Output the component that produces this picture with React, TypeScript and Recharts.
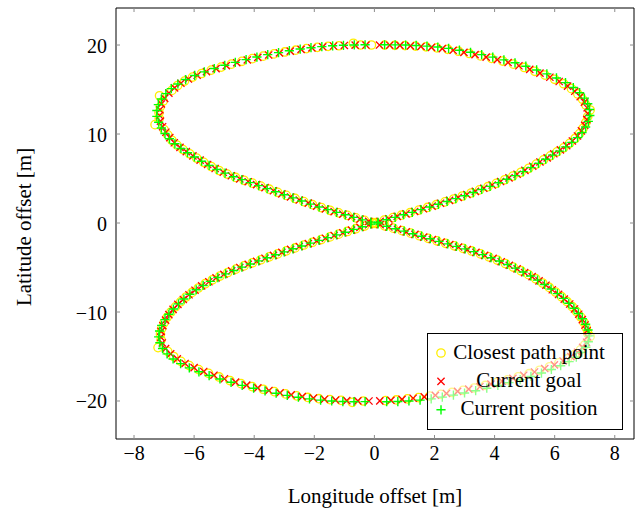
import {
  ScatterChart,
  Scatter,
  XAxis,
  YAxis,
  ReferenceArea,
  Legend,
} from 'recharts';

// figure-8 path: [x, y] in metres (upper right, upper left, lower left, lower right)
const closestPathPoints: [number, number][] = [
  [0.05, 0.05], [0.33, 0.32], [0.62, 0.6], [0.9, 0.88], [1.19, 1.16], [1.48, 1.45], [1.77, 1.75], [2.06, 2.06], [2.35, 2.37], [2.64, 2.7], [2.93, 3.03], [3.22, 3.37], [3.5, 3.72], [3.78, 4.08], [4.06, 4.46], [4.34, 4.86], [4.61, 5.27], [4.88, 5.7], [5.14, 6.15], [5.39, 6.62], [5.63, 7.1], [5.86, 7.55], [6.08, 8.0], [6.3, 8.45], [6.5, 8.95], [6.68, 9.5], [6.83, 10.05], [6.95, 10.65], [7.04, 11.3], [7.1, 11.95], [7.18, 12.7], [7.04, 13.25], [6.93, 13.9], [6.77, 14.5], [6.56, 15.1], [6.3, 15.65], [6.0, 16.15], [5.68, 16.62], [5.34, 17.05], [4.99, 17.48], [4.63, 17.85], [4.27, 18.2], [3.9, 18.5], [3.53, 18.78], [3.16, 19.05], [2.8, 19.3], [2.44, 19.52], [2.08, 19.68], [1.72, 19.8], [1.37, 19.88], [1.02, 19.94], [0.68, 19.97], [0.34, 19.99],
  [-0.05, 0.05], [-0.33, 0.3], [-0.62, 0.58], [-0.9, 0.86], [-1.19, 1.14], [-1.48, 1.43], [-1.77, 1.74], [-2.06, 2.06], [-2.35, 2.4], [-2.64, 2.76], [-2.93, 3.1], [-3.22, 3.45], [-3.5, 3.8], [-3.78, 4.14], [-4.06, 4.48], [-4.34, 4.8], [-4.62, 5.12], [-4.9, 5.5], [-5.17, 5.9], [-5.43, 6.35], [-5.68, 6.82], [-5.92, 7.3], [-6.15, 7.78], [-6.37, 8.25], [-6.57, 8.75], [-6.74, 9.3], [-6.88, 9.9], [-7.0, 10.5], [-7.3, 11.05], [-7.16, 11.75], [-7.17, 12.4], [-7.13, 13.05], [-7.03, 13.7], [-7.15, 14.3], [-6.74, 14.9], [-6.55, 15.45], [-6.32, 15.95], [-6.05, 16.4], [-5.75, 16.8], [-5.43, 17.18], [-5.1, 17.52], [-4.76, 17.85], [-4.41, 18.17], [-4.06, 18.47], [-3.7, 18.75], [-3.34, 19.0], [-2.98, 19.22], [-2.62, 19.42], [-2.26, 19.6], [-1.9, 19.74], [-1.54, 19.85], [-1.18, 19.92], [-0.7, 20.2], [-0.46, 20.0], [-0.1, 20.0],
  [-0.05, -0.05], [-0.33, -0.34], [-0.62, -0.64], [-0.9, -0.95], [-1.19, -1.25], [-1.48, -1.56], [-1.77, -1.86], [-2.06, -2.16], [-2.35, -2.47], [-2.64, -2.8], [-2.93, -3.13], [-3.22, -3.47], [-3.5, -3.8], [-3.78, -4.13], [-4.06, -4.47], [-4.34, -4.82], [-4.61, -5.18], [-4.88, -5.56], [-5.14, -5.96], [-5.39, -6.38], [-5.63, -6.82], [-5.86, -7.3], [-6.07, -7.8], [-6.27, -8.32], [-6.45, -8.86], [-6.62, -9.42], [-6.77, -10.0], [-6.9, -10.6], [-7.0, -11.22], [-7.08, -11.86], [-7.12, -12.5], [-7.1, -13.15], [-7.2, -14.0], [-6.88, -14.42], [-6.68, -15.0], [-6.44, -15.54], [-6.16, -16.02], [-5.85, -16.47], [-5.52, -16.9], [-5.17, -17.3], [-4.81, -17.7], [-4.44, -18.05], [-4.07, -18.38], [-3.7, -18.68], [-3.33, -18.95], [-2.96, -19.2], [-2.59, -19.42], [-2.22, -19.6], [-1.85, -19.74], [-1.48, -19.85], [-1.11, -19.93], [-0.74, -20.15], [-0.37, -20.0],
  [0.05, -0.05], [0.34, -0.32], [0.63, -0.58], [0.92, -0.86], [1.21, -1.14], [1.5, -1.43], [1.79, -1.72], [2.08, -2.0], [2.37, -2.28], [2.66, -2.56], [2.95, -2.84], [3.24, -3.14], [3.53, -3.46], [3.81, -3.8], [4.09, -4.16], [4.36, -4.55], [4.62, -4.95], [4.88, -5.36], [5.13, -5.8], [5.37, -6.26], [5.6, -6.74], [5.82, -7.24], [6.03, -7.75], [6.23, -8.28], [6.41, -8.82], [6.58, -9.38], [6.73, -9.95], [6.86, -10.54], [6.97, -11.15], [7.05, -11.78], [7.1, -12.42], [7.18, -12.75], [7.0, -13.7], [6.86, -14.25], [6.66, -14.78], [6.42, -15.27], [6.14, -15.72], [5.83, -16.15], [5.5, -16.55], [5.15, -16.93], [4.79, -17.28], [4.43, -17.62], [4.06, -17.94], [3.69, -18.25], [3.32, -18.54], [2.95, -18.8], [2.58, -19.04], [2.21, -19.26], [1.84, -19.45], [1.47, -19.62], [1.1, -19.76], [0.73, -19.88], [0.37, -19.96],
];

const currentGoalPoints: [number, number][] = [
  [0.19, 0.18], [0.48, 0.46], [0.76, 0.74], [1.05, 1.02], [1.34, 1.3], [1.63, 1.6], [1.92, 1.9], [2.2, 2.22], [2.5, 2.54], [2.79, 2.87], [3.08, 3.2], [3.36, 3.55], [3.64, 3.9], [3.92, 4.27], [4.2, 4.66], [4.48, 5.07], [4.75, 5.48], [5.01, 5.92], [5.27, 6.38], [5.51, 6.86], [5.75, 7.32], [5.97, 7.78], [6.19, 8.22], [6.4, 8.7], [6.59, 9.22], [6.76, 9.78], [6.89, 10.35], [7.0, 10.98], [7.07, 11.62], [7.1, 12.3], [7.08, 12.95], [6.99, 13.58], [6.85, 14.2], [6.67, 14.8], [6.43, 15.38], [6.15, 15.9], [5.84, 16.38], [5.51, 16.84], [5.17, 17.27], [4.81, 17.67], [4.45, 18.03], [4.09, 18.35], [3.72, 18.64], [3.35, 18.92], [2.98, 19.18], [2.62, 19.41], [2.26, 19.6], [1.9, 19.74], [1.55, 19.84], [1.2, 19.91], [0.85, 19.96], [0.51, 19.98], [0.17, 20.0],
  [-0.19, 0.18], [-0.48, 0.44], [-0.76, 0.72], [-1.05, 1.0], [-1.34, 1.28], [-1.63, 1.58], [-1.92, 1.9], [-2.2, 2.23], [-2.5, 2.58], [-2.79, 2.93], [-3.08, 3.28], [-3.36, 3.62], [-3.64, 3.97], [-3.92, 4.31], [-4.2, 4.64], [-4.48, 4.96], [-4.76, 5.31], [-5.03, 5.7], [-5.3, 6.12], [-5.55, 6.58], [-5.8, 7.06], [-6.04, 7.54], [-6.26, 8.02], [-6.47, 8.5], [-6.66, 9.02], [-6.81, 9.6], [-6.94, 10.2], [-7.05, 10.82], [-7.12, 11.45], [-7.15, 12.08], [-7.14, 12.72], [-7.09, 13.38], [-6.98, 14.0], [-6.84, 14.6], [-6.65, 15.18], [-6.44, 15.7], [-6.19, 16.18], [-5.9, 16.6], [-5.59, 17.0], [-5.27, 17.35], [-4.93, 17.68], [-4.58, 18.01], [-4.23, 18.32], [-3.88, 18.61], [-3.52, 18.88], [-3.16, 19.11], [-2.8, 19.32], [-2.44, 19.51], [-2.08, 19.67], [-1.72, 19.8], [-1.36, 19.89], [-1.0, 19.95], [-0.64, 19.99], [-0.28, 20.0],
  [-0.19, -0.2], [-0.48, -0.49], [-0.76, -0.8], [-1.05, -1.1], [-1.34, -1.4], [-1.63, -1.71], [-1.92, -2.01], [-2.2, -2.32], [-2.5, -2.64], [-2.79, -2.96], [-3.08, -3.3], [-3.36, -3.63], [-3.64, -3.96], [-3.92, -4.3], [-4.2, -4.64], [-4.48, -5.0], [-4.75, -5.37], [-5.01, -5.76], [-5.27, -6.17], [-5.51, -6.6], [-5.75, -7.06], [-5.97, -7.55], [-6.17, -8.06], [-6.36, -8.59], [-6.54, -9.14], [-6.7, -9.71], [-6.84, -10.3], [-6.95, -10.91], [-7.04, -11.54], [-7.1, -12.18], [-7.11, -12.82], [-7.06, -13.48], [-6.95, -14.11], [-6.78, -14.71], [-6.56, -15.27], [-6.3, -15.78], [-6.0, -16.25], [-5.68, -16.68], [-5.34, -17.1], [-4.99, -17.5], [-4.62, -17.88], [-4.25, -18.22], [-3.88, -18.53], [-3.51, -18.82], [-3.14, -19.08], [-2.77, -19.31], [-2.4, -19.51], [-2.03, -19.67], [-1.66, -19.8], [-1.29, -19.89], [-0.92, -19.96], [-0.55, -19.99], [-0.18, -20.0],
  [0.19, -0.18], [0.48, -0.45], [0.77, -0.72], [1.06, -1.0], [1.35, -1.28], [1.64, -1.58], [1.93, -1.86], [2.22, -2.14], [2.51, -2.42], [2.8, -2.7], [3.09, -2.99], [3.38, -3.3], [3.67, -3.63], [3.95, -3.98], [4.22, -4.35], [4.49, -4.75], [4.75, -5.15], [5.0, -5.58], [5.25, -6.03], [5.48, -6.5], [5.71, -6.99], [5.92, -7.5], [6.13, -8.02], [6.32, -8.55], [6.5, -9.1], [6.66, -9.66], [6.8, -10.25], [6.92, -10.85], [7.01, -11.46], [7.08, -12.1], [7.09, -12.76], [7.06, -13.4], [6.93, -13.98], [6.76, -14.52], [6.54, -15.02], [6.28, -15.5], [5.99, -15.94], [5.67, -16.35], [5.33, -16.74], [4.97, -17.1], [4.61, -17.45], [4.25, -17.78], [3.88, -18.1], [3.51, -18.4], [3.14, -18.67], [2.77, -18.92], [2.4, -19.15], [2.03, -19.36], [1.66, -19.54], [1.29, -19.69], [0.92, -19.82], [0.55, -19.92], [0.18, -19.99],
];

const currentPositionPoints: [number, number][] = [
  [0.12, 0.08], [0.4, 0.36], [0.69, 0.63], [0.97, 0.93], [1.26, 1.2], [1.55, 1.5], [1.84, 1.8], [2.13, 2.1], [2.42, 2.42], [2.71, 2.74], [3.0, 3.07], [3.29, 3.42], [3.57, 3.77], [3.85, 4.12], [4.13, 4.52], [4.41, 4.92], [4.68, 5.33], [4.95, 5.77], [5.21, 6.22], [5.46, 6.7], [5.7, 7.17], [5.93, 7.63], [6.16, 8.08], [6.37, 8.55], [6.57, 9.06], [6.76, 9.6], [6.91, 10.16], [7.03, 10.78], [7.12, 11.42], [7.17, 12.08], [7.16, 12.75], [7.1, 13.4], [6.99, 14.03], [6.83, 14.64], [6.62, 15.22], [6.36, 15.78], [6.06, 16.3], [5.74, 16.76], [5.4, 17.2], [5.04, 17.62], [4.68, 18.0], [4.31, 18.33], [3.94, 18.64], [3.57, 18.92], [3.2, 19.18], [2.83, 19.42], [2.47, 19.62], [2.11, 19.78], [1.75, 19.88], [1.39, 19.95], [1.04, 20.0], [0.69, 20.02], [0.34, 20.03],
  [-0.12, 0.1], [-0.4, 0.35], [-0.69, 0.63], [-0.97, 0.92], [-1.26, 1.2], [-1.55, 1.5], [-1.84, 1.8], [-2.13, 2.12], [-2.42, 2.47], [-2.71, 2.83], [-3.0, 3.17], [-3.29, 3.52], [-3.57, 3.86], [-3.85, 4.2], [-4.13, 4.54], [-4.41, 4.87], [-4.69, 5.2], [-4.97, 5.6], [-5.24, 6.02], [-5.5, 6.47], [-5.75, 6.94], [-5.99, 7.42], [-6.22, 7.9], [-6.44, 8.38], [-6.64, 8.9], [-6.82, 9.46], [-6.97, 10.06], [-7.09, 10.68], [-7.18, 11.32], [-7.24, 11.98], [-7.24, 12.64], [-7.19, 13.3], [-7.09, 13.93], [-6.94, 14.54], [-6.76, 15.1], [-6.54, 15.62], [-6.28, 16.12], [-5.98, 16.58], [-5.66, 16.98], [-5.33, 17.36], [-4.98, 17.72], [-4.63, 18.05], [-4.27, 18.36], [-3.91, 18.65], [-3.55, 18.92], [-3.19, 19.15], [-2.83, 19.36], [-2.47, 19.55], [-2.11, 19.7], [-1.75, 19.82], [-1.39, 19.91], [-1.03, 19.97], [-0.67, 20.01], [-0.31, 20.03],
  [-0.12, -0.12], [-0.4, -0.42], [-0.69, -0.72], [-0.97, -1.03], [-1.26, -1.33], [-1.55, -1.64], [-1.84, -1.95], [-2.13, -2.26], [-2.42, -2.58], [-2.71, -2.9], [-3.0, -3.24], [-3.29, -3.57], [-3.57, -3.91], [-3.85, -4.25], [-4.13, -4.6], [-4.41, -4.96], [-4.68, -5.33], [-4.95, -5.72], [-5.21, -6.13], [-5.46, -6.56], [-5.7, -7.02], [-5.93, -7.5], [-6.14, -8.01], [-6.34, -8.54], [-6.52, -9.09], [-6.69, -9.66], [-6.84, -10.25], [-6.97, -10.86], [-7.08, -11.5], [-7.15, -12.14], [-7.18, -12.8], [-7.14, -13.46], [-7.05, -14.1], [-6.9, -14.7], [-6.7, -15.28], [-6.45, -15.8], [-6.16, -16.28], [-5.84, -16.72], [-5.5, -17.14], [-5.14, -17.53], [-4.77, -17.9], [-4.4, -18.24], [-4.02, -18.56], [-3.64, -18.86], [-3.27, -19.13], [-2.9, -19.37], [-2.53, -19.58], [-2.16, -19.76], [-1.79, -19.9], [-1.42, -20.0], [-1.05, -20.06], [-0.68, -20.08], [-0.31, -20.07],
  [0.12, -0.1], [0.41, -0.37], [0.7, -0.64], [0.99, -0.91], [1.28, -1.2], [1.57, -1.48], [1.86, -1.77], [2.15, -2.06], [2.44, -2.34], [2.73, -2.62], [3.02, -2.91], [3.31, -3.22], [3.6, -3.55], [3.88, -3.9], [4.16, -4.27], [4.43, -4.66], [4.69, -5.07], [4.95, -5.5], [5.2, -5.95], [5.43, -6.42], [5.66, -6.91], [5.88, -7.42], [6.09, -7.94], [6.29, -8.47], [6.47, -9.02], [6.64, -9.58], [6.79, -10.16], [6.92, -10.76], [7.03, -11.38], [7.11, -12.02], [7.15, -12.68], [7.12, -13.34], [7.04, -13.96], [6.9, -14.54], [6.72, -15.08], [6.48, -15.58], [6.2, -16.04], [5.89, -16.46], [5.56, -16.86], [5.21, -17.24], [4.85, -17.6], [4.48, -17.94], [4.11, -18.26], [3.74, -18.56], [3.37, -18.84], [3.0, -19.1], [2.63, -19.34], [2.26, -19.56], [1.89, -19.76], [1.52, -19.9], [1.15, -20.0], [0.78, -20.06], [0.41, -20.08],
];

const xTicks = [-8, -6, -4, -2, 0, 2, 4, 6, 8];
const yTicks = [-20, -10, 0, 10, 20];

const FONT = '"Liberation Serif", "Times New Roman", serif';
const YELLOW = '#ffee00';
const RED = '#ff0000';
const GREEN = '#00ff00';
const TICK_COLOR = '#8c8c8c';

// plot box in page pixels
const PLOT = { left: 116, top: 8, right: 634, bottom: 439 };

const toData = (pts: [number, number][]) => pts.map(([x, y]) => ({ x, y }));

const fmt = (v: number) => (v < 0 ? `\u2212${Math.abs(v)}` : `${v}`);

const CircleMark = (p: any) => (
  <circle cx={p.cx} cy={p.cy} r={4.2} fill="none" stroke={YELLOW} strokeWidth={1.3} />
);

const CrossMark = (p: any) => {
  const s = 3.6;
  return (
    <path
      d={`M${p.cx - s},${p.cy - s}L${p.cx + s},${p.cy + s}M${p.cx - s},${p.cy + s}L${p.cx + s},${p.cy - s}`}
      stroke={RED}
      strokeWidth={1.3}
      fill="none"
    />
  );
};

const PlusMark = (p: any) => {
  const s = 4.6;
  return (
    <path
      d={`M${p.cx - s},${p.cy}L${p.cx + s},${p.cy}M${p.cx},${p.cy - s}L${p.cx},${p.cy + s}`}
      stroke={GREEN}
      strokeWidth={1.4}
      fill="none"
    />
  );
};

const XTick = ({ x, payload }: any) => (
  <g>
    <line x1={x} x2={x} y1={PLOT.bottom} y2={PLOT.bottom - 4} stroke={TICK_COLOR} />
    <line x1={x} x2={x} y1={PLOT.top} y2={PLOT.top + 4} stroke={TICK_COLOR} />
    <text x={x} y={460} textAnchor="middle" fontFamily={FONT} fontSize={20} fill="#000">
      {fmt(payload.value)}
    </text>
  </g>
);

const YTick = ({ y, payload }: any) => (
  <g>
    <line x1={PLOT.left} x2={PLOT.left + 4} y1={y} y2={y} stroke={TICK_COLOR} />
    <line x1={PLOT.right} x2={PLOT.right - 4} y1={y} y2={y} stroke={TICK_COLOR} />
    <text x={107} y={y + 7.5} textAnchor="end" fontFamily={FONT} fontSize={20} fill="#000">
      {fmt(payload.value)}
    </text>
  </g>
);

const legendRows = [
  { label: 'Closest path point', mark: 'circle' },
  { label: 'Current goal', mark: 'cross' },
  { label: 'Current position', mark: 'plus' },
];

const LegendBox = () => (
  <svg width={196} height={97} style={{ display: 'block' }}>
    <rect x={0.5} y={0.5} width={195} height={96} fill="#fff" fillOpacity={0.55} stroke="#000" />
    {legendRows.map((row, i) => {
      const cy = 20 + i * 28.4;
      return (
        <g key={row.label}>
          {row.mark === 'circle' && <CircleMark cx={14} cy={cy} />}
          {row.mark === 'cross' && <CrossMark cx={14} cy={cy} />}
          {row.mark === 'plus' && <PlusMark cx={14} cy={cy} />}
          <text x={102} y={cy + 5.5} textAnchor="middle" fontFamily={FONT} fontSize={21} fill="#000">
            {row.label}
          </text>
        </g>
      );
    })}
  </svg>
);

export default function App() {
  return (
    <div style={{ position: 'absolute', left: 0, top: 0, width: 643, height: 508, background: '#fff' }}>
      <ScatterChart width={643} height={508} margin={{ top: 8, right: 9, bottom: 0, left: 0 }}>
        <XAxis
          type="number"
          dataKey="x"
          domain={[-8.6, 8.64]}
          ticks={xTicks}
          interval={0}
          allowDataOverflow
          height={69}
          axisLine={false}
          tickLine={false}
          tick={XTick}
          label={() => (
            <text x={375} y={503} textAnchor="middle" fontFamily={FONT} fontSize={21} fill="#000">
              Longitude offset [m]
            </text>
          )}
        />
        <YAxis
          type="number"
          dataKey="y"
          domain={[-24.27, 24.16]}
          ticks={yTicks}
          interval={0}
          allowDataOverflow
          width={116}
          axisLine={false}
          tickLine={false}
          tick={YTick}
          label={() => (
            <text
              x={31}
              y={227}
              transform="rotate(-90 31 227)"
              textAnchor="middle"
              fontFamily={FONT}
              fontSize={21}
              fill="#000"
            >
              Latitude offset [m]
            </text>
          )}
        />
        <Scatter name="Closest path point" data={toData(closestPathPoints)} shape={CircleMark} isAnimationActive={false} />
        <Scatter name="Current goal" data={toData(currentGoalPoints)} shape={CrossMark} isAnimationActive={false} />
        <Scatter name="Current position" data={toData(currentPositionPoints)} shape={PlusMark} isAnimationActive={false} />
        <ReferenceArea
          x1={-8.6}
          x2={8.64}
          y1={-24.27}
          y2={24.16}
          fill="none"
          stroke="#000"
          strokeWidth={1}
          ifOverflow="visible"
        />
        <Legend
          layout="vertical"
          align="center"
          verticalAlign="middle"
          width={196}
          height={97}
          wrapperStyle={{ left: 427, top: 333, width: 196, height: 97 }}
          content={() => <LegendBox />}
        />
      </ScatterChart>
    </div>
  );
}
